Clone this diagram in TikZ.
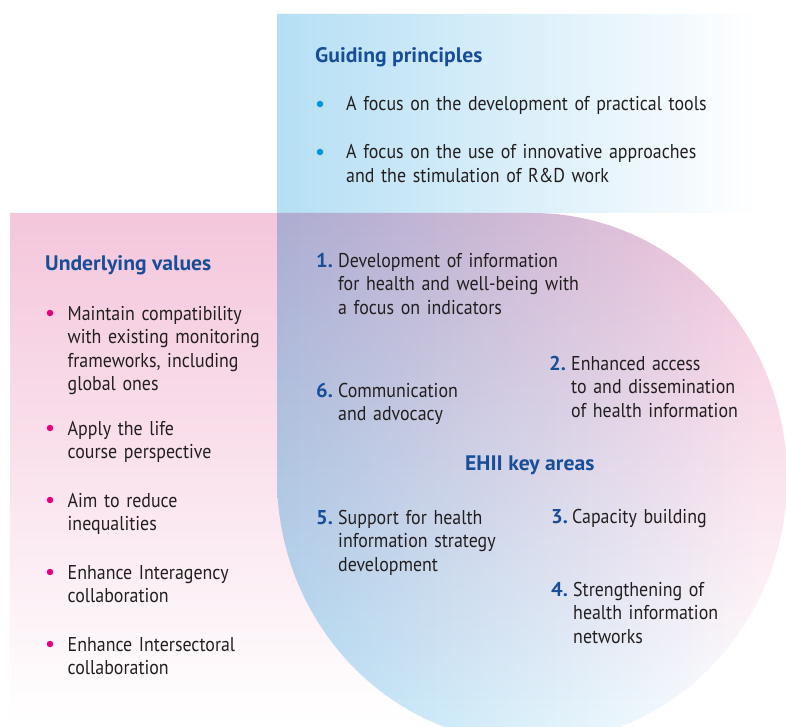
\documentclass[tikz,border=0pt]{standalone}
\usepackage{fontspec}
\setmainfont{PT Sans}[FakeStretch=0.895, BoldFeatures={FakeStretch=1.03}]
\definecolor{headblue}{RGB}{24,78,152}
\definecolor{txtgray}{RGB}{35,31,32}
\definecolor{dotblue}{RGB}{0,150,218}
\definecolor{dotmag}{RGB}{229,0,125}
\definecolor{skyL}{RGB}{181,223,244}
\definecolor{rosetop}{RGB}{244,198,219}
\begin{document}
\begin{tikzpicture}[x=1pt,y=1pt,
  body/.style={font=\fontsize{20}{23.5}\selectfont, text=txtgray, inner sep=0pt,
    anchor=base west, text width=400pt, align=left},
  heading/.style={font=\fontsize{21}{24}\selectfont\bfseries, text=headblue,
    inner sep=0pt, anchor=base west},
  numlabel/.style={font=\fontsize{20}{24}\selectfont\bfseries, text=headblue,
    inner sep=0pt, anchor=base west},
  bluedot/.style={circle, fill=dotblue, inner sep=0pt, minimum size=6.5pt},
  magdot/.style={circle, fill=dotmag, inner sep=0pt, minimum size=6.5pt}]
\useasboundingbox (0,0) rectangle (786,-727);
\fill[white] (0,0) rectangle (786,-727);

% pink band: left panel plus the round key-areas field
\begin{scope}
  \clip (10,-213) -- (532,-213)
        arc[start angle=90, end angle=-90, x radius=255, y radius=265]
        -- (10,-743) -- cycle;
  \shade[top color=rosetop, bottom color=white] (10,-213) rectangle (786,-722);
\end{scope}

% blue band: top panel plus the same round field, multiplied over the pink
\begin{scope}[blend mode=multiply]
  \clip (277,-14) -- (786,-14) -- (786,-213) -- (532,-213)
        arc[start angle=90, end angle=-180, x radius=255, y radius=265] -- cycle;
  \shade[left color=skyL, right color=white] (277,-14) rectangle (760,-745);
\end{scope}

% guiding principles
\node[heading] (gp) at (315,-63) {Guiding principles};
\node[bluedot] (gpd1) at (320,-104) {};
\node[body] (gp1) at (346,-111) {A focus on the development of practical tools};
\node[bluedot] (gpd2) at (320,-152) {};
\node[body] (gp2) at (346,-159) {A focus on the use of innovative approaches\\and the stimulation of R\&D work};

% underlying values
\node[heading] (uv) at (45,-270) {Underlying values};
\node[magdot] (uvd1) at (50,-313) {};
\node[body] (uv1) at (67.5,-320) {Maintain compatibility\\with existing monitoring\\frameworks, including\\global ones};
\node[magdot] (uvd2) at (50,-428) {};
\node[body] (uv2) at (67.5,-435) {Apply the life\\course perspective};
\node[magdot] (uvd3) at (50,-500) {};
\node[body] (uv3) at (67.5,-507) {Aim to reduce\\inequalities};
\node[magdot] (uvd4) at (50,-572) {};
\node[body] (uv4) at (67.5,-579) {Enhance Interagency\\collaboration};
\node[magdot] (uvd5) at (50,-644) {};
\node[body] (uv5) at (67.5,-651) {Enhance Intersectoral\\collaboration};

% key areas
\node[numlabel] (n1) at (316,-267) {1.};
\node[body] (k1) at (338,-267) {Development of information\\for health and well-being with\\a focus on indicators};
\node[numlabel] (n2) at (549,-370) {2.};
\node[body] (k2) at (571,-370) {Enhanced access\\to and dissemination\\of health information};
\node[numlabel] (n6) at (316,-397) {6.};
\node[body] (k6) at (338,-397) {Communication\\and advocacy};
\node[heading] (ka) at (465,-470) {EHII key areas};
\node[numlabel] (n5) at (316,-524) {5.};
\node[body] (k5) at (338,-524) {Support for health\\information strategy\\development};
\node[numlabel] (n3) at (551,-523) {3.};
\node[body] (k3) at (572,-523) {Capacity building};
\node[numlabel] (n4) at (551,-596) {4.};
\node[body] (k4) at (573,-596) {Strengthening of\\health information\\networks};
\end{tikzpicture}
\end{document}
